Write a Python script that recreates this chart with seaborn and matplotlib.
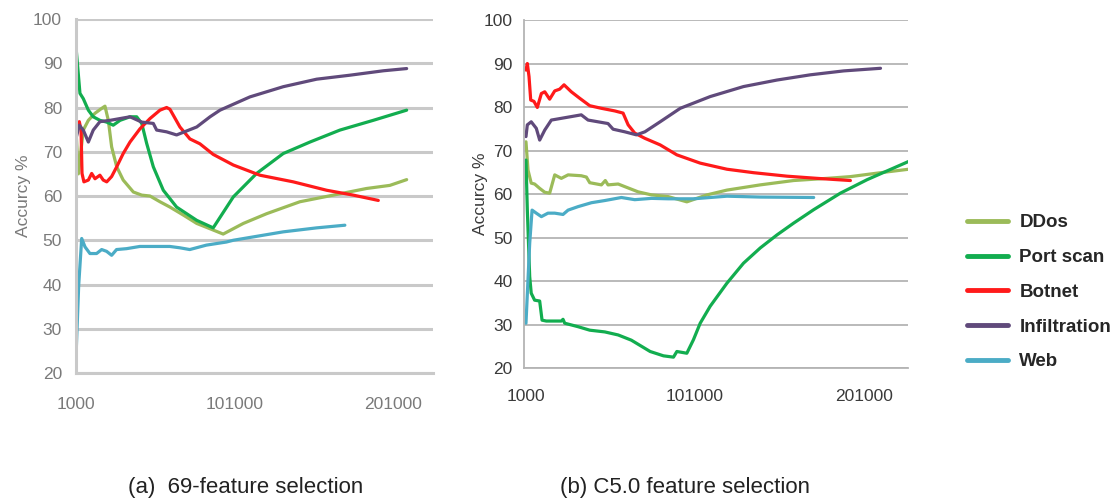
import pandas as pd
import seaborn as sns
import matplotlib.pyplot as plt
from matplotlib.lines import Line2D

# ---- data (x = number of samples, y = accuracy %) ----
series_names = ["DDos", "Port scan", "Botnet", "Infiltration", "Web"]
colors = ["#9bbb59", "#12ad4f", "#ff1a1a", "#604a7b", "#4bacc6"]

# (a) 69-feature selection
a_ddos_x = [1000, 2500, 5600, 8800, 13000, 17200, 19300, 21400, 23500, 26700, 30800, 37200, 42500,
            47700, 54000, 60300, 68700, 77200, 85600, 93900, 106600, 121300, 142300, 163400,
            184400, 199100, 209700]
a_ddos_y = [74.9, 65.0, 74.9, 77.1, 78.7, 79.8, 80.3, 77.1, 71.1, 66.6, 63.6, 60.9, 60.2,
            60.0, 58.7, 57.5, 55.7, 53.8, 52.6, 51.4, 53.8, 56.0, 58.7, 60.2,
            61.7, 62.4, 63.7]

a_port_x = [1000, 3500, 5600, 8800, 11900, 16100, 20400, 24500, 28800, 35100, 39300, 42500,
            45600, 49800, 56100, 64500, 77200, 87600, 100300, 115000, 131800, 148700, 167600,
            188600, 209700]
a_port_y = [93.7, 83.2, 82.0, 79.4, 77.9, 77.1, 76.7, 76.0, 77.1, 77.9, 77.9, 76.4,
            71.9, 66.6, 61.3, 57.5, 54.5, 52.8, 59.8, 65.1, 69.6, 72.2, 74.9,
            77.1, 79.4]

a_bot_x = [1000, 3100, 4200, 4800, 6000, 8800, 10900, 13000, 16100, 18200, 20400, 23500, 26700,
           30800, 35100, 41400, 47700, 54000, 58200, 60300, 66600, 72900, 79200, 87600, 100300,
           117100, 138100, 159200, 176000, 191800]
a_bot_y = [74.9, 76.8, 74.9, 65.1, 63.2, 63.6, 65.1, 63.9, 64.7, 63.6, 63.2, 64.4, 66.6,
           69.6, 72.2, 75.2, 77.5, 79.4, 80.0, 79.6, 75.6, 72.9, 71.8, 69.4, 67.0,
           64.7, 63.2, 61.3, 60.2, 59.0]

a_inf_x = [1000, 3100, 5600, 8800, 11900, 16100, 22500, 28800, 35100, 42500, 49800, 51900,
           58200, 64500, 77200, 85600, 91900, 110800, 131800, 152900, 173900, 195000, 209700]
a_inf_y = [73.0, 76.0, 74.9, 72.2, 74.9, 76.8, 77.1, 77.5, 77.9, 76.7, 76.4, 74.9,
           74.5, 73.8, 75.6, 77.9, 79.4, 82.4, 84.7, 86.4, 87.3, 88.3, 88.8]

a_web_x = [1000, 2700, 4600, 6700, 9800, 14000, 17200, 20300, 23500, 26600, 32900, 41300,
           51800, 60200, 66500, 72800, 83300, 95900, 100300, 131800, 152900, 170700]
a_web_y = [23.6, 39.8, 50.4, 48.5, 47.0, 47.0, 47.9, 47.5, 46.6, 47.9, 48.1, 48.6,
           48.6, 48.6, 48.3, 47.9, 48.9, 49.6, 50.0, 51.9, 52.8, 53.4]

# (b) C5.0 feature selection
b_ddos_x = [1000, 2200, 4100, 6100, 9100, 12100, 15000, 18000, 21900, 25900, 33700, 36700,
            38700, 45600, 47900, 49500, 55500, 59400, 67300, 75200, 85100, 96100, 108000,
            119800, 139500, 159200, 179000, 192800, 208600, 227300]
b_ddos_y = [72.0, 65.5, 62.5, 62.3, 61.3, 60.4, 60.2, 64.4, 63.6, 64.4, 64.2, 63.9,
            62.6, 62.1, 63.1, 62.1, 62.3, 61.7, 60.5, 59.8, 59.4, 58.2, 59.8,
            60.9, 62.1, 63.1, 63.6, 64.0, 64.8, 65.7]

b_port_x = [1000, 1800, 3200, 4100, 6100, 9100, 10500, 13000, 21900, 22900, 23900, 31800,
            38700, 47600, 55500, 63300, 74400, 82300, 88200, 90200, 96100, 100000, 104000,
            109900, 119800, 129600, 139500, 149400, 159200, 171100, 186900, 202700, 227300]
b_port_y = [67.8, 56.3, 41.0, 37.2, 35.6, 35.4, 31.0, 30.8, 30.8, 31.2, 30.3, 29.5,
            28.7, 28.3, 27.6, 26.4, 23.8, 22.8, 22.5, 23.8, 23.4, 26.5, 30.3,
            34.2, 39.5, 44.1, 47.6, 50.6, 53.3, 56.4, 60.2, 63.3, 67.5]

b_bot_x = [1000, 1800, 2800, 3800, 5700, 7700, 10100, 12100, 15000, 18000, 20900, 23500,
           27800, 32800, 38700, 45600, 53500, 58400, 61400, 65300, 71300, 80300, 90200,
           104000, 119800, 135600, 155300, 173100, 192800]
b_bot_y = [88.5, 90.0, 87.0, 81.6, 81.3, 79.9, 83.1, 83.5, 81.8, 83.7, 84.1, 85.1,
           83.5, 82.0, 80.3, 79.7, 79.1, 78.6, 75.9, 74.0, 72.8, 71.3, 69.0,
           67.1, 65.7, 64.9, 64.1, 63.6, 63.1]

b_inf_x = [1000, 1800, 4100, 7100, 9100, 12100, 16000, 21900, 27800, 33700, 37700, 43600,
           49500, 52500, 59400, 66300, 71300, 80300, 92200, 109900, 129600, 149400, 169100,
           188800, 210600]
b_inf_y = [73.2, 75.9, 76.6, 75.1, 72.4, 74.7, 77.0, 77.4, 77.8, 78.2, 77.0, 76.6,
           76.2, 74.9, 74.3, 73.6, 74.3, 76.6, 79.7, 82.4, 84.7, 86.2, 87.4,
           88.3, 88.9]

b_web_x = [1000, 3200, 4600, 7100, 10100, 14000, 18000, 22900, 25900, 31800, 39700, 47600,
           57400, 65300, 75200, 85100, 100000, 119800, 139500, 171100]
b_web_y = [30.3, 48.7, 56.3, 55.6, 54.8, 55.6, 55.6, 55.3, 56.3, 57.1, 58.0, 58.5,
           59.2, 58.7, 59.0, 58.9, 58.9, 59.5, 59.3, 59.2]

y_ticks = [20, 30, 40, 50, 60, 70, 80, 90, 100]
x_ticks = [1000, 101000, 201000]
x_ticklabels = ["1000", "101000", "201000"]


def long_frame(parts):
    rows = []
    for name, xs, ys in parts:
        for xv, yv in zip(xs, ys):
            rows.append({"series": name, "x": xv, "y": yv})
    return pd.DataFrame(rows)


df_a = long_frame([("DDos", a_ddos_x, a_ddos_y), ("Port scan", a_port_x, a_port_y),
                   ("Botnet", a_bot_x, a_bot_y), ("Infiltration", a_inf_x, a_inf_y),
                   ("Web", a_web_x, a_web_y)])
df_b = long_frame([("DDos", b_ddos_x, b_ddos_y), ("Port scan", b_port_x, b_port_y),
                   ("Botnet", b_bot_x, b_bot_y), ("Infiltration", b_inf_x, b_inf_y),
                   ("Web", b_web_x, b_web_y)])

sns.set_style("white")
plt.rcParams["font.family"] = ["Liberation Sans", "DejaVu Sans"]

palette = dict(zip(series_names, colors))
fig = plt.figure(figsize=(11.11, 5.04), dpi=100)
ax_a = fig.add_axes([0.0684, 0.2599, 0.3213, 0.7024])
ax_b = fig.add_axes([0.4716, 0.2698, 0.3456, 0.6905])

for ax, df, xlim, tcol, gcol, glw in [
        (ax_a, df_a, (1000, 226300), "#7a7a7a", "#c9c9c9", 2.2),
        (ax_b, df_b, (-200, 226800), "#3a3a3a", "#b4b4b4", 1.3)]:
    sns.lineplot(data=df, x="x", y="y", hue="series", hue_order=series_names,
                 palette=palette, estimator=None, sort=False, linewidth=2.3,
                 legend=False, ax=ax)
    ax.set_xlim(*xlim)
    ax.set_ylim(20, 100)
    ax.set_yticks(y_ticks)
    ax.set_xticks(x_ticks)
    ax.set_xticklabels(x_ticklabels)
    ax.grid(axis="y", color=gcol, linewidth=glw)
    ax.set_axisbelow(True)
    for s in ["top", "right"]:
        ax.spines[s].set_visible(False)
    for s in ["left", "bottom"]:
        ax.spines[s].set_color(gcol)
        ax.spines[s].set_linewidth(glw)
    ax.tick_params(axis="both", length=0, labelsize=12.5, labelcolor=tcol)
    ax.set_xlabel("")
    ax.set_ylabel("Accurcy %", fontsize=12.5, color=tcol)

ax_a.tick_params(axis="y", pad=10)
ax_a.tick_params(axis="x", pad=17)
ax_b.tick_params(axis="y", pad=8)
ax_b.tick_params(axis="x", pad=15)
ax_a.yaxis.set_label_coords(-0.126, 0.5)
ax_b.yaxis.set_label_coords(-0.094, 0.5)

handles = [Line2D([], [], color=c, linewidth=3.5) for c in colors]
fig.legend(handles, series_names, loc="center left", bbox_to_anchor=(0.855, 0.42),
           frameon=False, handlelength=2.2, handletextpad=0.6, labelspacing=0.94,
           prop={"weight": "bold", "size": 13.5})

fig.text(0.2214, 0.0337, "(a)  69-feature selection", ha="center", va="center", fontsize=16,
         color="#222222")
fig.text(0.617, 0.0337, "(b) C5.0 feature selection", ha="center", va="center", fontsize=16,
         color="#222222")

fig.savefig("out.png", dpi=100)
